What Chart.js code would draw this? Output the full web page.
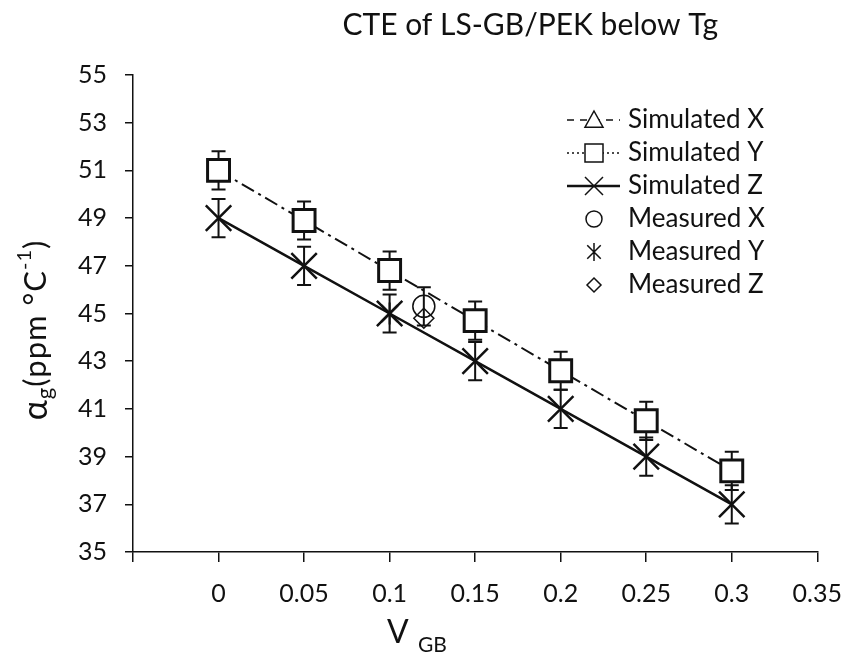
<!DOCTYPE html>
<html>
<head>
<meta charset="utf-8">
<script src="https://cdn.jsdelivr.net/npm/chart.js@4"></script>
<style>
  html, body { margin: 0; padding: 0; background: #fff; }
  #wrap { width: 859px; height: 659px; }
</style>
</head>
<body>
<div id="wrap"><canvas id="cte" width="859" height="659"></canvas></div>
<script>
// datos
const vGB = [0, 0.05, 0.1, 0.15, 0.2, 0.25, 0.3];
const simX = [];   // en leyenda, no visible en la figura
const simY = [51, 48.9, 46.8, 44.7, 42.6, 40.5, 38.4];
const simYErr = [0.8, 0.8, 0.8, 0.8, 0.8, 0.8, 0.8];
const simZ = [49, 47, 45, 43, 41, 39, 37];
const simZErr = [0.8, 0.8, 0.8, 0.8, 0.8, 0.8, 0.8];
const measX = [{ x: 0.12, y: 45.3 }];
const measXErr = [0.8];
const measY = [{ x: 0.1, y: 45 }];
const measZ = [{ x: 0.12, y: 44.8 }];

const xTickValues = [-0.05, 0, 0.05, 0.1, 0.15, 0.2, 0.25, 0.3, 0.35];
const xTickLabels = ['', '0', '0.05', '0.1', '0.15', '0.2', '0.25', '0.3', '0.35'];
const yTickValues = [35, 37, 39, 41, 43, 45, 47, 49, 51, 53, 55];

const legendItems = ['Simulated X', 'Simulated Y', 'Simulated Z', 'Measured X', 'Measured Y', 'Measured Z'];

const FONT = 'Lato, "Open Sans", sans-serif';
const INK = '#111';

function toPoints(xs, ys) {
    return ys.map((y, i) => ({ x: xs[i], y: y }));
}

// asterisco de 6 brazos
function asteriskCanvas(size, lw) {
    const c = document.createElement('canvas');
    c.width = size; c.height = size;
    const g = c.getContext('2d');
    const h = size / 2, r = size / 2 - 2;
    g.strokeStyle = INK;
    g.lineWidth = lw;
    g.beginPath();
    g.moveTo(h - r * 0.75, h - r * 0.75); g.lineTo(h + r * 0.75, h + r * 0.75);
    g.moveTo(h + r * 0.75, h - r * 0.75); g.lineTo(h - r * 0.75, h + r * 0.75);
    g.moveTo(h, h - r); g.lineTo(h, h + r);
    g.stroke();
    return c;
}

// barras de error
const errorBars = {
    id: 'errorBars',
    beforeDatasetsDraw(chart) {
        const ctx = chart.ctx;
        const xs = chart.scales.x, ys = chart.scales.y;
        ctx.save();
        ctx.strokeStyle = INK;
        ctx.lineWidth = 2;
        chart.data.datasets.forEach(ds => {
            if (!ds.errors) return;
            ds.data.forEach((p, i) => {
                const e = ds.errors[i];
                const px = xs.getPixelForValue(p.x);
                const top = ys.getPixelForValue(p.y + e);
                const bot = ys.getPixelForValue(p.y - e);
                ctx.beginPath();
                ctx.moveTo(px, top); ctx.lineTo(px, bot);
                ctx.moveTo(px - 7, top); ctx.lineTo(px + 7, top);
                ctx.moveTo(px - 7, bot); ctx.lineTo(px + 7, bot);
                ctx.stroke();
            });
        });
        ctx.restore();
    }
};

function drawMarker(ctx, kind, x, y, s) {
    ctx.save();
    ctx.strokeStyle = INK;
    ctx.fillStyle = '#fff';
    ctx.lineWidth = 1.5;
    ctx.beginPath();
    if (kind === 'triangle') {
        ctx.moveTo(x, y - s); ctx.lineTo(x + s, y + s * 0.8); ctx.lineTo(x - s, y + s * 0.8); ctx.closePath();
        ctx.fill(); ctx.stroke();
    } else if (kind === 'square') {
        ctx.rect(x - s, y - s, 2 * s, 2 * s);
        ctx.fill(); ctx.stroke();
    } else if (kind === 'x') {
        ctx.moveTo(x - s, y - s); ctx.lineTo(x + s, y + s);
        ctx.moveTo(x + s, y - s); ctx.lineTo(x - s, y + s);
        ctx.stroke();
    } else if (kind === 'circle') {
        ctx.arc(x, y, s, 0, Math.PI * 2);
        ctx.stroke();
    } else if (kind === 'asterisk') {
        ctx.moveTo(x - s * 0.75, y - s * 0.75); ctx.lineTo(x + s * 0.75, y + s * 0.75);
        ctx.moveTo(x + s * 0.75, y - s * 0.75); ctx.lineTo(x - s * 0.75, y + s * 0.75);
        ctx.moveTo(x, y - s); ctx.lineTo(x, y + s);
        ctx.stroke();
    } else if (kind === 'diamond') {
        ctx.moveTo(x, y - s); ctx.lineTo(x + s, y); ctx.lineTo(x, y + s); ctx.lineTo(x - s, y); ctx.closePath();
        ctx.stroke();
    }
    ctx.restore();
}

// titulo, leyenda y titulos de ejes
const decorations = {
    id: 'decorations',
    afterDraw(chart) {
        const ctx = chart.ctx;
        ctx.save();
        ctx.fillStyle = INK;

        // titulo
        ctx.font = '30px ' + FONT;
        ctx.textAlign = 'right';
        ctx.textBaseline = 'alphabetic';
        ctx.fillText('CTE of LS-GB/PEK below Tg', 718, 35);

        // leyenda
        ctx.textBaseline = 'middle';
        const lx0 = 567, lx1 = 620, mx = 594, tx = 628;
        const kinds = ['triangle', 'square', 'x', 'circle', 'asterisk', 'diamond'];
        const sizes = [9, 9, 9, 8, 9, 7];
        const dashes = [[7, 6], [2, 3], [], null, null, null];
        ctx.textAlign = 'left';
        ctx.font = '26px ' + FONT;
        legendItems.forEach((label, i) => {
            const y = 120 + i * 33;
            if (dashes[i]) {
                ctx.save();
                ctx.strokeStyle = INK;
                ctx.lineWidth = i === 2 ? 2.5 : 1.5;
                ctx.setLineDash(dashes[i]);
                ctx.beginPath();
                ctx.moveTo(lx0, y); ctx.lineTo(lx1, y);
                ctx.stroke();
                ctx.restore();
            }
            drawMarker(ctx, kinds[i], mx, y, sizes[i]);
            ctx.fillText(label, tx, y);
        });

        // titulo eje y: alpha_g (ppm °C^-1)
        ctx.save();
        ctx.translate(36, 330);
        ctx.rotate(-Math.PI / 2);
        const parts = [
            ['α', 34, 0], ['g', 22, 9], ['(ppm °C', 31, 0], ['-1', 20, -11], [')', 31, 0]
        ];
        ctx.letterSpacing = '1px';
        let total = 0;
        parts.forEach(p => { ctx.font = p[1] + 'px ' + FONT; total += ctx.measureText(p[0]).width; });
        let cx = -total / 2;
        parts.forEach(p => {
            ctx.font = p[1] + 'px ' + FONT;
            ctx.fillText(p[0], cx, p[2]);
            cx += ctx.measureText(p[0]).width;
        });
        ctx.restore();

        // titulo eje x: V_GB
        ctx.font = '32px ' + FONT;
        ctx.fillText('V', 387, 633);
        ctx.font = '21px ' + FONT;
        ctx.fillText('GB', 418, 645);

        ctx.restore();
    }
};

const datasets = [
    {
        label: 'Simulated Y',
        data: toPoints(vGB, simY),
        errors: simYErr,
        showLine: true,
        borderColor: INK,
        borderWidth: 2,
        borderDash: [14, 5, 3, 5],
        pointStyle: 'rect',
        pointRadius: 15.5,
        pointBorderWidth: 3,
        pointBorderColor: INK,
        pointBackgroundColor: '#fff',
        order: 1
    },
    {
        label: 'Simulated Z',
        data: toPoints(vGB, simZ),
        errors: simZErr,
        showLine: true,
        borderColor: INK,
        borderWidth: 2.5,
        pointStyle: 'crossRot',
        pointRadius: 18,
        pointBorderWidth: 2.5,
        pointBorderColor: INK,
        order: 2
    },
    {
        label: 'Simulated X',
        data: toPoints(vGB, simX),
        showLine: true,
        borderColor: INK,
        borderWidth: 2,
        borderDash: [7, 6],
        pointStyle: 'triangle',
        pointRadius: 10,
        order: 3
    },
    {
        label: 'Measured X',
        data: measX,
        errors: measXErr,
        showLine: false,
        pointStyle: 'circle',
        pointRadius: 11,
        pointBorderWidth: 1.5,
        pointBorderColor: INK,
        pointBackgroundColor: 'rgba(0,0,0,0)',
        order: 0
    },
    {
        label: 'Measured Y',
        data: measY,
        showLine: false,
        pointStyle: asteriskCanvas(26, 2),
        order: 0
    },
    {
        label: 'Measured Z',
        data: measZ,
        showLine: false,
        pointStyle: 'rectRot',
        pointRadius: 10,
        pointBorderWidth: 1.5,
        pointBorderColor: INK,
        pointBackgroundColor: 'rgba(0,0,0,0)',
        order: 0
    }
];

new Chart(document.getElementById('cte'), {
    type: 'scatter',
    data: { datasets: datasets },
    plugins: [errorBars, decorations],
    options: {
        responsive: false,
        animation: false,
        devicePixelRatio: 1,
        layout: { padding: { top: 75, right: 33, left: 0, bottom: 0 } },
        plugins: {
            legend: { display: false },
            tooltip: { enabled: false },
            title: { display: false }
        },
        scales: {
            x: {
                type: 'linear',
                min: -0.05,
                max: 0.35,
                afterBuildTicks: s => { s.ticks = xTickValues.map(v => ({ value: v })); },
                afterFit: s => { s.height = 107; },
                grid: { display: true, drawOnChartArea: false, drawTicks: true, tickLength: 10, color: INK, lineWidth: 1.5 },
                border: { display: true, color: INK, width: 1.5 },
                ticks: {
                    autoSkip: false,
                    maxRotation: 0,
                    padding: 17,
                    color: INK,
                    font: { family: FONT, size: 25 },
                    callback: (v, i) => xTickLabels[i]
                }
            },
            y: {
                type: 'linear',
                min: 35,
                max: 55,
                afterBuildTicks: s => { s.ticks = yTickValues.map(v => ({ value: v })); },
                afterFit: s => { s.width = 133; },
                grid: { display: true, drawOnChartArea: false, drawTicks: true, tickLength: 8, color: INK, lineWidth: 1.5 },
                border: { display: true, color: INK, width: 1.5 },
                ticks: {
                    autoSkip: false,
                    padding: 18,
                    color: INK,
                    font: { family: FONT, size: 25 }
                }
            }
        }
    }
});
</script>
</body>
</html>
